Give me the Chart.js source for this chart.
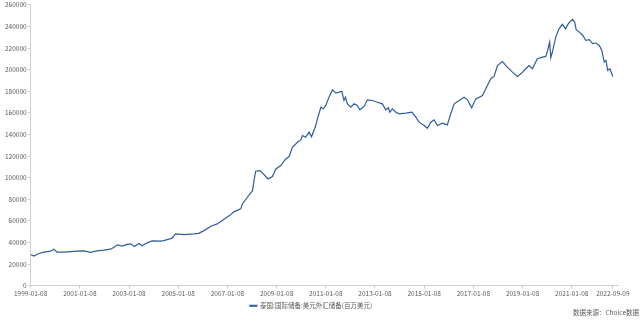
<!DOCTYPE html>
<html>
<head>
<meta charset="utf-8">
<script src="https://cdn.jsdelivr.net/npm/chart.js@4/dist/chart.umd.min.js"></script>
<style>
    html, body { margin: 0; padding: 0; background: #ffffff; }
    #wrap { position: relative; width: 640px; height: 322px; }
    #source {
        position: absolute;
        right: 1px;
        top: 307px;
        font-family: 'Noto Sans CJK SC', sans-serif;
        font-size: 6.5px;
        color: #595959;
    }
</style>
</head>
<body>
<div id="wrap">
    <canvas id="reserves-chart"></canvas>
    <div id="source">数据来源：Choice数据</div>
</div>
<script>
// Dates as decimal years (1999-01-08 ... 2022-09-09)
const years = [
    1999.02, 1999.15, 1999.35, 1999.56, 1999.83, 1999.96, 2000.10, 2000.37, 2000.91,
    2001.18, 2001.45, 2001.72, 2002.00, 2002.26, 2002.40, 2002.54, 2002.74, 2002.94,
    2003.08, 2003.24, 2003.42, 2003.55, 2003.76, 2003.96, 2004.30, 2004.43, 2004.64,
    2004.77, 2004.91, 2005.26, 2005.67, 2005.85, 2006.07, 2006.35, 2006.60, 2006.90,
    2007.10, 2007.30, 2007.56, 2007.63, 2007.83, 2008.04, 2008.10, 2008.17, 2008.35,
    2008.48, 2008.67, 2008.85, 2008.99, 2009.19, 2009.39, 2009.53, 2009.66, 2009.87,
    2010.00, 2010.07, 2010.20, 2010.34, 2010.44, 2010.61, 2010.70, 2010.82, 2010.92,
    2011.02, 2011.15, 2011.29, 2011.43, 2011.56, 2011.67, 2011.76, 2011.82, 2011.90,
    2012.04, 2012.17, 2012.30, 2012.40, 2012.58, 2012.71, 2012.92, 2013.12, 2013.32,
    2013.46, 2013.57, 2013.62, 2013.73, 2013.87, 2014.00, 2014.27, 2014.52, 2014.68,
    2014.81, 2015.02, 2015.15, 2015.29, 2015.42, 2015.56, 2015.76, 2015.96, 2016.10,
    2016.24, 2016.44, 2016.64, 2016.78, 2016.95, 2017.12, 2017.39, 2017.59, 2017.73,
    2017.86, 2018.00, 2018.20, 2018.40, 2018.61, 2018.81, 2018.95, 2019.15, 2019.28,
    2019.42, 2019.62, 2019.83, 2019.96, 2020.04, 2020.12, 2020.17, 2020.23, 2020.37,
    2020.50, 2020.64, 2020.77, 2020.88, 2021.05, 2021.14, 2021.20, 2021.33, 2021.47,
    2021.59, 2021.73, 2021.87, 2022.00, 2022.14, 2022.24, 2022.34, 2022.41, 2022.48,
    2022.57, 2022.69
];

// 泰国:国际储备:美元外汇储备(百万美元)
const reserves = [
    28900, 27400, 29800, 31100, 32000, 33800, 31100, 31100, 32000,
    32300, 30800, 32300, 32900, 33800, 35400, 37800, 36600, 38200,
    38800, 36300, 39100, 37000, 39700, 41500, 41200, 41800, 43100,
    44000, 48000, 47300, 47900, 48500, 51000, 55000, 57200, 61800,
    64900, 68600, 71100, 75700, 81900, 88000, 97300, 106000, 106600,
    103500, 98900, 101000, 108100, 111200, 117400, 119600, 128200, 132800,
    135000, 139000, 137500, 142100, 137900, 148300, 156000, 165300, 163800,
    166900, 174600, 181400, 178300, 179200, 180000, 171500, 174600, 168400,
    165300, 168400, 166900, 162900, 166000, 172100, 171500, 169900, 168400,
    162900, 164700, 160600, 163800, 160600, 159200, 159800, 160600, 156000,
    151400, 148300, 145800, 151400, 153600, 148300, 150500, 148900, 159200,
    168400, 171500, 174600, 172100, 164700, 173000, 176100, 185400, 191600,
    193800, 203900, 207600, 202400, 197800, 193800, 196200, 200900, 203900,
    200900, 210200, 211700, 212300, 217800, 225500, 211100, 216300, 230200,
    237900, 242000, 237900, 242600, 246600, 244100, 237000, 234800, 231700,
    227100, 227800, 224100, 224700, 222500, 217800, 207000, 208600, 199300,
    200900, 193700
];

// Positions and texts of the x axis labels
const tickYears = [1999.02, 2001.02, 2003.02, 2005.02, 2007.02, 2009.02, 2011.02,
                   2013.02, 2015.02, 2017.02, 2019.02, 2021.02, 2022.69];
const tickLabels = ['1999-01-08', '2001-01-08', '2003-01-08', '2005-01-08', '2007-01-08',
                    '2009-01-08', '2011-01-08', '2013-01-08', '2015-01-08', '2017-01-08',
                    '2019-01-08', '2021-01-08', '2022-09-09'];

const seriesName = '泰国:国际储备:美元外汇储备(百万美元)';

const lineColor = '#2f5d9b';
const axisColor = '#d0d0d0';
const textColor = '#595959';
const font = { family: "'Noto Sans CJK SC', 'Noto Sans', sans-serif", size: 6.5 };

const points = years.map((y, i) => ({ x: y, y: reserves[i] }));

new Chart(document.getElementById('reserves-chart'), {
    type: 'line',
    data: {
        datasets: [{
            label: seriesName,
            data: points,
            borderColor: lineColor,
            backgroundColor: lineColor,
            borderWidth: 1.2,
            pointRadius: 0,
            tension: 0
        }]
    },
    options: {
        responsive: true,
        maintainAspectRatio: false,
        animation: false,
        layout: {
            padding: { left: 4, right: 22, top: 0, bottom: 3 }
        },
        scales: {
            x: {
                type: 'linear',
                min: 1999.02,
                max: 2022.9,
                // Labels only at the reference dates
                afterBuildTicks: function(scale) {
                    scale.ticks = tickYears.map(v => ({ value: v }));
                },
                grid: {
                    drawOnChartArea: false,
                    drawTicks: true,
                    tickLength: 3,
                    color: axisColor
                },
                border: { display: true, color: axisColor },
                ticks: {
                    autoSkip: false,
                    maxRotation: 0,
                    padding: 1,
                    color: textColor,
                    font: font,
                    callback: function(value, index) {
                        return tickLabels[index];
                    }
                }
            },
            y: {
                min: 0,
                max: 260000,
                grid: {
                    drawOnChartArea: false,
                    drawTicks: true,
                    tickLength: 3,
                    color: axisColor
                },
                border: { display: true, color: axisColor },
                ticks: {
                    stepSize: 20000,
                    padding: 1,
                    color: textColor,
                    font: font,
                    // No thousands separators
                    callback: function(value) {
                        return String(value);
                    }
                }
            }
        },
        plugins: {
            legend: {
                position: 'bottom',
                labels: {
                    boxWidth: 7,
                    boxHeight: 1,
                    padding: 4,
                    color: textColor,
                    font: font
                }
            },
            tooltip: { enabled: false }
        }
    }
});
</script>
</body>
</html>
